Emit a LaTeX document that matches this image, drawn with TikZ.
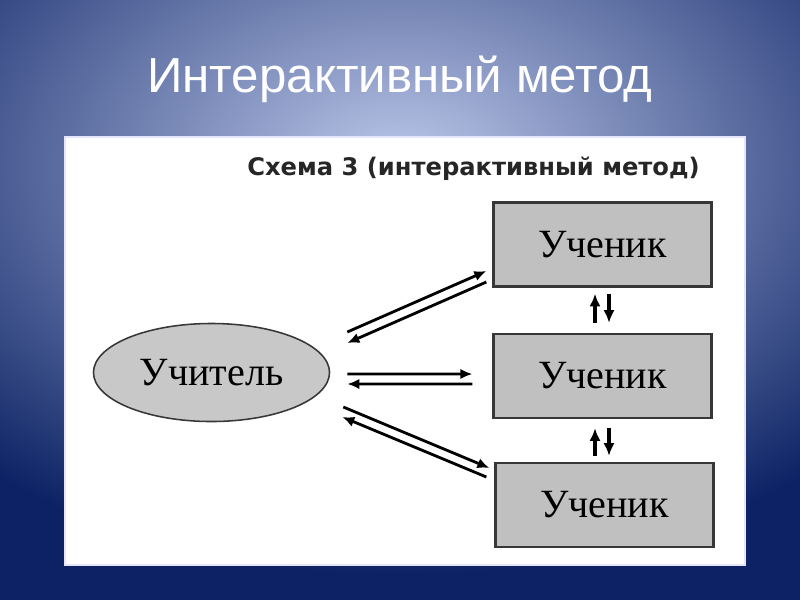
\documentclass[tikz,border=0pt]{standalone}
\usepackage{fontspec}
\setmainfont{Liberation Serif}
\newfontfamily\headfont{Liberation Sans}
\newfontfamily\schemefont{DejaVu Sans}
\usetikzlibrary{arrows.meta,calc,shapes.geometric}
\definecolor{bgin}{RGB}{188,200,234}
\definecolor{bgout}{RGB}{12,34,100}
\definecolor{boxgray}{RGB}{192,192,192}
\definecolor{ovalgray}{RGB}{200,200,200}
\definecolor{edgegray}{RGB}{55,55,55}

\begin{document}
\begin{tikzpicture}[
  x=0.025cm, y=-0.025cm,
  pupil/.style={draw=edgegray, fill=boxgray, line width=1.6pt,
    minimum width=5.45cm, minimum height=2.1cm, inner sep=0pt,
    font=\fontsize{28.5pt}{32pt}\selectfont},
  teacher/.style={ellipse, draw=edgegray, fill=ovalgray, line width=1.1pt,
    minimum width=5.9cm, minimum height=2.45cm, inner sep=0pt,
    font=\fontsize{28.5pt}{32pt}\selectfont},
  flow/.style={line width=2pt, -{Latex[length=3mm,width=2.6mm]}},
  vflow/.style={line width=2.3pt, -{Latex[length=3.2mm,width=2.8mm]}}
]
\useasboundingbox (0,0) rectangle (800,600);

% Slide background and white panel.
\begin{scope}
  \clip (0,0) rectangle (800,600);
  \fill[bgout] (0,0) rectangle (800,600);
  \shade[inner color=bgin, outer color=bgout] (400,165)
    ellipse [x radius=620, y radius=410];
\end{scope}
\draw[fill=white, draw=blue!10, line width=0.8pt] (65,137) rectangle (745,565);

% Headings.
\node[anchor=base, text=white, font=\headfont\fontsize{35pt}{40pt}\selectfont]
  (title) at (400,92) {Интерактивный метод};
\node[anchor=base, text=black!85, font=\schemefont\bfseries\fontsize{17.2pt}{20pt}\selectfont]
  (caption) at (473.5,175) {Схема 3 (интерактивный метод)};

% Teacher and pupils.
\node[teacher] (teacher) at (211.5,372.5) {Учитель};
\node[pupil] (pupil1) at (602.5,244.5) {Ученик};
\node[pupil] (pupil2) at (602.5,376) {Ученик};
\node[pupil] (pupil3) at (604.5,505) {Ученик};

% Two-way links teacher <-> pupils.
\draw[flow] ($(teacher.east)+(17,-40.5)$) -- ($(pupil1.west)+(-6,26.5)$);
\draw[flow] ($(pupil1.west)+(-6,37.5)$) -- ($(teacher.east)+(17,-29.5)$);
\draw[flow] ($(teacher.east)+(17,1.5)$) -- ($(pupil2.west)+(-20,-2)$);
\draw[flow] ($(pupil2.west)+(-20,8)$) -- ($(teacher.east)+(17,11.5)$);
\draw[flow] ($(teacher.east)+(13,34.5)$) -- ($(pupil3.west)+(-5,-37)$);
\draw[flow] ($(pupil3.west)+(-8,-28)$) -- ($(teacher.east)+(12,44.5)$);

% Links between pupils.
\draw[vflow] ($(pupil2.north)+(-7.5,-10)$) -- ($(pupil1.south)+(-7.5,6)$);
\draw[vflow] ($(pupil1.south)+(6.5,6)$) -- ($(pupil2.north)+(6.5,-10)$);
\draw[vflow] ($(pupil3.north)+(-9.5,-6)$) -- ($(pupil2.south)+(-7.5,9)$);
\draw[vflow] ($(pupil2.south)+(6.5,9)$) -- ($(pupil3.north)+(4.5,-6)$);
\end{tikzpicture}
\end{document}
